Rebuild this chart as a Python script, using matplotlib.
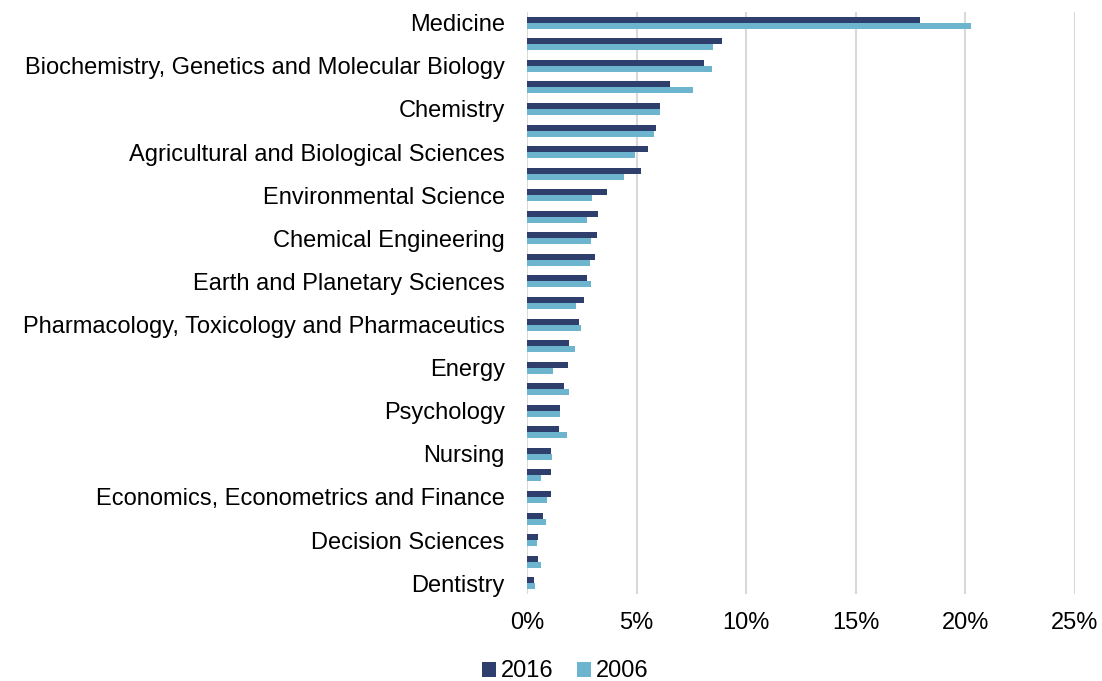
import matplotlib
matplotlib.use("Agg")
import matplotlib.pyplot as plt
import numpy as np
from matplotlib.ticker import FuncFormatter

categories = [
    "Medicine", "Engineering", "Biochemistry, Genetics and Molecular Biology",
    "Physics and Astronomy", "Chemistry", "Materials Science",
    "Agricultural and Biological Sciences", "Computer Science",
    "Environmental Science", "Social Sciences", "Chemical Engineering",
    "Mathematics", "Earth and Planetary Sciences", "Immunology and Microbiology",
    "Pharmacology, Toxicology and Pharmaceutics", "Neuroscience", "Energy",
    "Arts and Humanities", "Psychology", "Health Professions", "Nursing",
    "Business, Management and Accounting", "Economics, Econometrics and Finance",
    "Veterinary", "Decision Sciences", "Multidisciplinary", "Dentistry",
]
shown = [i % 2 == 0 for i in range(len(categories))]
tick_labels = [c if s else "" for c, s in zip(categories, shown)]

values_2016 = [17.95, 8.88, 8.06, 6.51, 6.05, 5.90, 5.51, 5.20, 3.66,
               3.25, 3.19, 3.10, 2.72, 2.61, 2.37, 1.91, 1.88, 1.68,
               1.52, 1.47, 1.11, 1.11, 1.08, 0.73, 0.52, 0.50, 0.33]
values_2006 = [20.26, 8.50, 8.44, 7.56, 6.08, 5.81, 4.93, 4.42, 2.96,
               2.73, 2.90, 2.88, 2.94, 2.25, 2.47, 2.20, 1.18, 1.90,
               1.49, 1.81, 1.15, 0.64, 0.91, 0.88, 0.46, 0.64, 0.35]
x_ticks = [0, 5, 10, 15, 20, 25]

c2016 = "#2F3F6D"
c2006 = "#6DB5CE"

plt.rcParams["font.family"] = ["Liberation Sans", "DejaVu Sans"]

fig = plt.figure(figsize=(11.02, 6.81), dpi=100)
ax = fig.add_axes([527 / 1102, 1 - 594 / 681, (1075 - 527) / 1102, (594 - 12) / 681])

y = np.arange(len(categories))
h = 0.28
ax.barh(y - h / 2, values_2016, height=h, color=c2016, label="2016", zorder=3)
ax.barh(y + h / 2, values_2006, height=h, color=c2006, label="2006", zorder=3)

ax.set_ylim(len(categories) - 0.5, -0.5)
ax.set_xlim(0, 25)
ax.set_xticks(x_ticks)
ax.xaxis.set_major_formatter(FuncFormatter(lambda v, p: f"{v:.0f}%"))
ax.set_yticks(y)
ax.set_yticklabels(tick_labels)
ax.tick_params(axis="both", length=0, labelsize=17, colors="#000000")
ax.tick_params(axis="y", pad=16)
ax.tick_params(axis="x", pad=13)
ax.grid(axis="x", color="#D9D9D9", linewidth=1.5, zorder=0)
for s in ax.spines.values():
    s.set_visible(False)

fig.legend(loc="center", bbox_to_anchor=(0.513, 0.014), ncol=2, frameon=False,
           fontsize=17, handlelength=0.6, handleheight=0.6, handletextpad=0.2,
           columnspacing=1.0)

fig.savefig("out.png", dpi=100)
